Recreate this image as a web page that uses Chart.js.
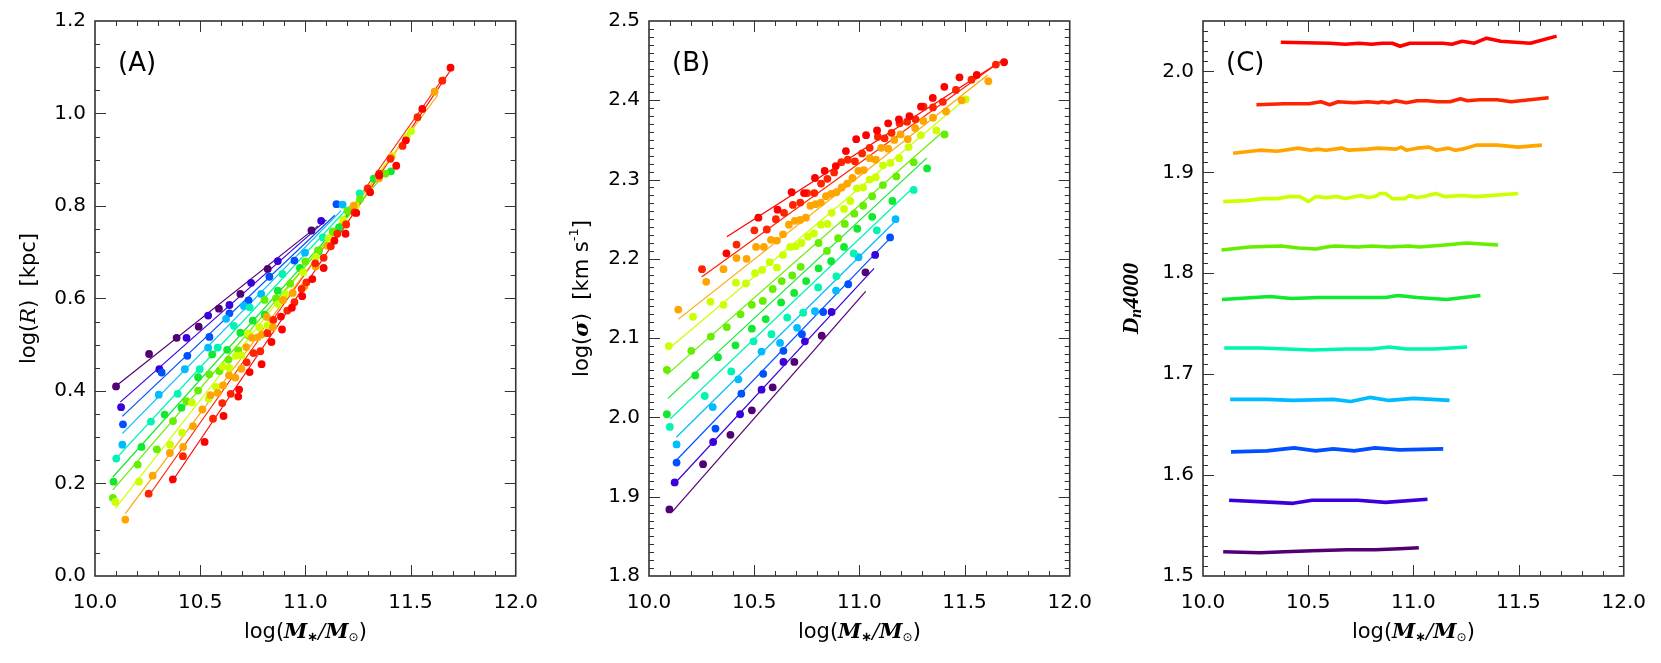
<!DOCTYPE html>
<html>
<head>
<meta charset="utf-8">
<script src="https://cdn.jsdelivr.net/npm/chart.js@4.4.0/dist/chart.umd.min.js"></script>
<style>
  body { margin: 0; background: #fff; }
  #wrap { position: relative; width: 1661px; height: 663px; }
  canvas { position: absolute; top: 0; }
</style>
</head>
<body>
<div id="wrap">
  <canvas id="panelA" width="553" height="663" style="left:0px"></canvas>
  <canvas id="panelB" width="554" height="663" style="left:553px"></canvas>
  <canvas id="panelC" width="554" height="663" style="left:1107px"></canvas>
</div>
<script>
// ---- data ----
const seriesColors = ['#520072', '#3a00dc', '#0050ff', '#00bbff', '#00f5b0', '#11e830',
  '#66ee00', '#ccff00', '#ffa500', '#ff2400', '#ff0000'];

const xTicks = [10.0, 10.5, 11.0, 11.5, 12.0];
const yTicksA = [0.0, 0.2, 0.4, 0.6, 0.8, 1.0, 1.2];
const yTicksB = [1.8, 1.9, 2.0, 2.1, 2.2, 2.3, 2.4, 2.5];
const yTicksC = [1.5, 1.6, 1.7, 1.8, 1.9, 2.0];

// panel A: log(R) vs log(M*)
const radiusPoints = [
  [[10.100,0.410],[10.257,0.480],[10.388,0.515],[10.493,0.539],[10.589,0.578],[10.691,0.610],[10.821,0.664],[11.029,0.747]],
  [[10.124,0.365],[10.306,0.447],[10.435,0.515],[10.538,0.563],[10.639,0.586],[10.742,0.634],[10.869,0.681],[11.075,0.768]],
  [[10.133,0.328],[10.317,0.440],[10.439,0.476],[10.544,0.517],[10.639,0.568],[10.730,0.596],[10.829,0.647],[10.948,0.682],[11.148,0.804]],
  [[10.130,0.284],[10.303,0.392],[10.427,0.447],[10.538,0.494],[10.623,0.556],[10.708,0.584],[10.790,0.610],[10.998,0.699],[11.177,0.803]],
  [[10.101,0.254],[10.266,0.334],[10.393,0.394],[10.498,0.447],[10.583,0.494],[10.660,0.541],[10.735,0.581],[10.891,0.653],[11.083,0.732],[11.258,0.827]],
  [[10.088,0.204],[10.221,0.279],[10.331,0.349],[10.411,0.364],[10.490,0.430],[10.557,0.479],[10.628,0.489],[10.691,0.526],[10.750,0.552],[10.807,0.565],[10.869,0.617],[10.974,0.666],[11.064,0.702],[11.160,0.754],[11.325,0.859],[11.407,0.875]],
  [[10.085,0.169],[10.203,0.241],[10.294,0.274],[10.371,0.335],[10.435,0.378],[10.490,0.401],[10.543,0.436],[10.591,0.443],[10.634,0.468],[10.681,0.488],[10.730,0.520],[10.806,0.597],[10.860,0.600],[10.928,0.632],[11.000,0.680],[11.060,0.704],[11.130,0.745],[11.200,0.790],[11.260,0.815],[11.380,0.870]],
  [[10.097,0.160],[10.209,0.204],[10.357,0.284],[10.414,0.310],[10.461,0.375],[10.540,0.383],[10.575,0.409],[10.608,0.453],[10.639,0.450],[10.670,0.476],[10.696,0.477],[10.727,0.524],[10.781,0.538],[10.820,0.542],[10.871,0.588],[10.905,0.609],[10.990,0.657],[11.050,0.690],[11.110,0.730],[11.180,0.770],[11.240,0.800],[11.300,0.835],[11.412,0.908],[11.482,0.949],[11.503,0.962]],
  [[10.144,0.122],[10.274,0.217],[10.356,0.266],[10.419,0.279],[10.466,0.324],[10.510,0.360],[10.549,0.391],[10.583,0.396],[10.609,0.412],[10.637,0.434],[10.667,0.429],[10.696,0.448],[10.719,0.495],[10.746,0.515],[10.773,0.516],[10.792,0.522],[10.817,0.560],[10.846,0.538],[10.894,0.597],[10.940,0.612],[10.995,0.626],[11.049,0.669],[11.106,0.714],[11.191,0.761],[11.230,0.801],[11.350,0.860],[11.407,0.905],[11.614,1.047]],
  [[10.255,0.178],[10.418,0.259],[10.561,0.340],[10.605,0.374],[10.645,0.394],[10.721,0.462],[10.753,0.482],[10.786,0.486],[10.820,0.525],[10.848,0.554],[10.914,0.574],[10.948,0.592],[10.982,0.621],[11.005,0.635],[11.047,0.676],[11.087,0.688],[11.121,0.713],[11.152,0.740],[11.194,0.760],[11.233,0.786],[11.296,0.838],[11.351,0.870],[11.404,0.902],[11.462,0.930],[11.533,0.992],[11.651,1.071]],
  [[10.370,0.209],[10.521,0.290],[10.611,0.346],[10.681,0.388],[10.685,0.403],[10.735,0.441],[10.792,0.458],[10.839,0.506],[10.889,0.533],[10.884,0.561],[10.936,0.580],[10.985,0.605],[11.033,0.642],[11.087,0.666],[11.138,0.725],[11.191,0.740],[11.242,0.785],[11.308,0.830],[11.351,0.866],[11.432,0.887],[11.478,0.942],[11.556,1.010],[11.690,1.099]]
];
const radiusFits = [
  [[10.10,0.411],[11.06,0.757]], [[10.12,0.376],[11.10,0.770]], [[10.13,0.345],[11.14,0.780]],
  [[10.13,0.308],[11.17,0.790]], [[10.10,0.254],[11.21,0.800]], [[10.085,0.214],[11.27,0.815]],
  [[10.085,0.186],[11.36,0.860]], [[10.097,0.146],[11.50,0.960]], [[10.144,0.135],[11.63,1.040]],
  [[10.255,0.173],[11.66,1.080]], [[10.36,0.200],[11.70,1.100]]
];

// panel B: log(sigma) vs log(M*)
const sigmaPoints = [
  [[10.097,1.884],[10.257,1.941],[10.387,1.978],[10.489,2.009],[10.588,2.038],[10.691,2.070],[10.821,2.103],[11.029,2.183]],
  [[10.122,1.918],[10.305,1.969],[10.433,2.004],[10.535,2.035],[10.639,2.070],[10.741,2.096],[10.868,2.133],[11.075,2.205]],
  [[10.131,1.943],[10.316,1.986],[10.439,2.030],[10.543,2.055],[10.639,2.084],[10.727,2.105],[10.828,2.133],[10.947,2.168],[11.146,2.227]],
  [[10.131,1.966],[10.303,2.013],[10.425,2.048],[10.535,2.083],[10.623,2.094],[10.704,2.113],[10.789,2.134],[10.889,2.160],[10.996,2.202],[11.172,2.250]],
  [[10.099,1.988],[10.265,2.027],[10.391,2.058],[10.497,2.096],[10.582,2.105],[10.657,2.126],[10.733,2.132],[10.804,2.164],[10.891,2.178],[10.973,2.207],[11.083,2.236],[11.258,2.287]],
  [[10.085,2.004],[10.220,2.053],[10.328,2.076],[10.411,2.091],[10.489,2.112],[10.555,2.124],[10.628,2.145],[10.690,2.157],[10.747,2.172],[10.806,2.188],[10.866,2.197],[10.927,2.215],[10.990,2.238],[11.061,2.253],[11.157,2.273],[11.322,2.314]],
  [[10.085,2.060],[10.201,2.084],[10.294,2.102],[10.370,2.114],[10.435,2.130],[10.489,2.142],[10.541,2.147],[10.588,2.162],[10.631,2.172],[10.681,2.179],[10.721,2.190],[10.806,2.220],[10.846,2.210],[10.899,2.226],[10.931,2.244],[10.976,2.257],[11.018,2.267],[11.061,2.279],[11.112,2.293],[11.176,2.304],[11.258,2.322],[11.405,2.357]],
  [[10.094,2.090],[10.209,2.127],[10.292,2.146],[10.354,2.142],[10.413,2.170],[10.461,2.169],[10.504,2.182],[10.538,2.186],[10.574,2.196],[10.608,2.189],[10.637,2.205],[10.671,2.215],[10.698,2.216],[10.725,2.220],[10.755,2.228],[10.784,2.232],[10.817,2.243],[10.848,2.244],[10.868,2.258],[10.927,2.263],[10.957,2.273],[10.988,2.289],[11.018,2.290],[11.049,2.300],[11.078,2.303],[11.112,2.318],[11.148,2.321],[11.189,2.327],[11.234,2.341],[11.292,2.356],[11.366,2.362],[11.505,2.401]],
  [[10.139,2.136],[10.272,2.171],[10.354,2.187],[10.416,2.201],[10.464,2.200],[10.509,2.215],[10.546,2.215],[10.580,2.224],[10.608,2.223],[10.637,2.231],[10.665,2.243],[10.693,2.248],[10.719,2.249],[10.746,2.252],[10.767,2.267],[10.792,2.269],[10.817,2.271],[10.841,2.279],[10.866,2.282],[10.891,2.284],[10.916,2.290],[10.942,2.295],[10.967,2.302],[10.995,2.311],[11.021,2.312],[11.049,2.327],[11.078,2.325],[11.104,2.340],[11.137,2.339],[11.166,2.350],[11.196,2.357],[11.230,2.351],[11.265,2.365],[11.304,2.374],[11.350,2.378],[11.412,2.386],[11.486,2.400],[11.613,2.424]],
  [[10.252,2.187],[10.416,2.218],[10.501,2.236],[10.560,2.237],[10.603,2.250],[10.642,2.258],[10.684,2.268],[10.719,2.271],[10.752,2.283],[10.786,2.283],[10.818,2.295],[10.848,2.301],[10.880,2.309],[10.914,2.322],[10.945,2.325],[10.979,2.323],[11.013,2.333],[11.049,2.340],[11.088,2.354],[11.120,2.352],[11.153,2.359],[11.191,2.371],[11.227,2.373],[11.267,2.376],[11.305,2.392],[11.350,2.391],[11.397,2.398],[11.459,2.413],[11.533,2.426],[11.649,2.445]],
  [[10.368,2.207],[10.520,2.252],[10.611,2.262],[10.678,2.284],[10.737,2.283],[10.789,2.302],[10.835,2.311],[10.888,2.317],[10.936,2.336],[10.985,2.351],[11.032,2.356],[11.084,2.362],[11.137,2.371],[11.188,2.376],[11.238,2.380],[11.293,2.392],[11.349,2.403],[11.404,2.417],[11.476,2.429],[11.558,2.432],[11.688,2.448]]
];
const sigmaFits = [
  [[10.11,1.881],[11.03,2.159]], [[10.12,1.916],[11.07,2.188]], [[10.13,1.946],[11.15,2.227]],
  [[10.13,1.975],[11.18,2.250]], [[10.10,1.998],[11.26,2.291]], [[10.09,2.024],[11.32,2.327]],
  [[10.085,2.054],[11.40,2.361]], [[10.095,2.087],[11.505,2.402]], [[10.14,2.124],[11.61,2.432]],
  [[10.25,2.177],[11.65,2.445]], [[10.37,2.228],[11.69,2.452]]
];

// panel C: Dn4000 vs log(M*)
const dn4000Lines = [
  [[10.096,1.524],[10.270,1.523],[10.387,1.524],[10.520,1.525],[10.685,1.526],[10.818,1.526],[10.934,1.527],[11.026,1.528]],
  [[10.124,1.575],[10.337,1.573],[10.428,1.572],[10.519,1.575],[10.735,1.575],[10.868,1.573],[11.067,1.576]],
  [[10.133,1.623],[10.304,1.624],[10.433,1.627],[10.536,1.624],[10.619,1.626],[10.719,1.624],[10.818,1.627],[10.934,1.625],[11.142,1.626]],
  [[10.129,1.675],[10.304,1.675],[10.428,1.674],[10.619,1.675],[10.702,1.673],[10.793,1.677],[10.885,1.674],[11.001,1.676],[11.172,1.674]],
  [[10.101,1.726],[10.271,1.726],[10.519,1.724],[10.685,1.725],[10.802,1.725],[10.885,1.727],[10.968,1.725],[11.100,1.725],[11.255,1.727]],
  [[10.090,1.774],[10.320,1.777],[10.420,1.775],[10.553,1.776],[10.685,1.776],[10.868,1.776],[10.926,1.778],[11.017,1.776],[11.158,1.774],[11.319,1.778]],
  [[10.088,1.823],[10.221,1.826],[10.371,1.827],[10.454,1.825],[10.537,1.824],[10.587,1.826],[10.629,1.827],[10.737,1.826],[10.803,1.827],[10.886,1.826],[10.977,1.827],[11.027,1.826],[11.151,1.828],[11.251,1.830],[11.403,1.828]],
  [[10.096,1.871],[10.203,1.872],[10.286,1.874],[10.353,1.874],[10.411,1.876],[10.461,1.876],[10.502,1.871],[10.535,1.876],[10.585,1.875],[10.635,1.876],[10.676,1.874],[10.751,1.877],[10.784,1.875],[10.817,1.876],[10.842,1.879],[10.867,1.879],[10.900,1.874],[10.958,1.874],[10.983,1.877],[11.017,1.875],[11.050,1.876],[11.108,1.879],[11.149,1.876],[11.232,1.877],[11.299,1.876],[11.498,1.879]],
  [[10.143,1.919],[10.270,1.922],[10.353,1.921],[10.453,1.924],[10.511,1.922],[10.544,1.923],[10.585,1.922],[10.660,1.924],[10.693,1.922],[10.784,1.923],[10.834,1.924],[10.917,1.923],[10.942,1.925],[10.967,1.922],[11.017,1.924],[11.075,1.925],[11.108,1.922],[11.166,1.924],[11.199,1.922],[11.232,1.923],[11.299,1.927],[11.398,1.927],[11.498,1.925],[11.611,1.927]],
  [[10.254,1.967],[10.387,1.968],[10.503,1.968],[10.561,1.970],[10.602,1.967],[10.643,1.970],[10.718,1.969],[10.784,1.970],[10.834,1.969],[10.851,1.970],[10.884,1.969],[10.917,1.971],[10.967,1.969],[11.017,1.971],[11.066,1.971],[11.116,1.970],[11.174,1.970],[11.224,1.973],[11.257,1.971],[11.315,1.972],[11.398,1.972],[11.465,1.970],[11.643,1.974]],
  [[10.370,2.029],[10.602,2.028],[10.676,2.027],[10.743,2.028],[10.801,2.027],[10.851,2.028],[10.900,2.028],[10.937,2.025],[10.984,2.028],[11.092,2.028],[11.141,2.028],[11.183,2.027],[11.232,2.030],[11.290,2.028],[11.348,2.033],[11.415,2.030],[11.556,2.028],[11.681,2.035]]
];

// ---- drawing helpers ----
const SANS = '"DejaVu Sans", sans-serif';
const SERIF = '"DejaVu Serif", serif';

function toXY(pairs) { return pairs.map(p => ({ x: p[0], y: p[1] })); }

function drawRich(ctx, parts, x, y, rotate) {
  ctx.save();
  ctx.translate(x, y);
  if (rotate) ctx.rotate(-Math.PI / 2);
  ctx.textBaseline = 'middle';
  ctx.fillStyle = '#000';
  let total = 0;
  parts.forEach(p => { ctx.font = p.f; total += ctx.measureText(p.t).width; });
  let cx = -total / 2;
  parts.forEach(p => {
    ctx.font = p.f;
    ctx.fillText(p.t, cx, p.dy || 0);
    cx += ctx.measureText(p.t).width;
  });
  ctx.restore();
}

const massTitle = [
  { t: 'log(', f: '21px ' + SANS },
  { t: 'M', f: 'bold italic 21px ' + SERIF },
  { t: '\u2217', f: 'bold 13px ' + SANS, dy: 5 },
  { t: '/', f: 'italic 21px ' + SERIF },
  { t: 'M', f: 'bold italic 21px ' + SERIF },
  { t: '\u2299', f: '12px ' + SANS, dy: 5 },
  { t: ')', f: '21px ' + SANS }
];

// frame with inward major/minor ticks on all four sides, plus titles
const framePlugin = {
  id: 'frame',
  afterDraw(chart, args, opts) {
    const { ctx, chartArea: a, scales } = chart;
    ctx.save();
    ctx.strokeStyle = '#333';
    ctx.lineWidth = 1;
    const tick = (x1, y1, x2, y2) => {
      ctx.beginPath(); ctx.moveTo(x1, y1); ctx.lineTo(x2, y2); ctx.stroke();
    };
    const nx = Math.round((scales.x.max - scales.x.min) / 0.1);
    for (let i = 1; i < nx; i++) {
      const v = scales.x.min + i * 0.1;
      const px = Math.round(scales.x.getPixelForValue(v)) + 0.5;
      const len = (i % 5 === 0) ? 11 : 5;
      tick(px, a.bottom, px, a.bottom - len);
      tick(px, a.top, px, a.top + len);
    }
    const ny = Math.round((scales.y.max - scales.y.min) / opts.yMinor);
    for (let i = 1; i < ny; i++) {
      const v = scales.y.min + i * opts.yMinor;
      const py = Math.round(scales.y.getPixelForValue(v)) + 0.5;
      const len = (i % opts.perMajor === 0) ? 11 : 5;
      tick(a.left, py, a.left + len, py);
      tick(a.right, py, a.right - len, py);
    }
    ctx.lineWidth = 1.6;
    ctx.strokeRect(a.left, a.top, a.right - a.left, a.bottom - a.top);
    ctx.restore();

    drawRich(ctx, massTitle, (a.left + a.right) / 2, 633, false);
    drawRich(ctx, opts.yTitle, opts.yTitleX, (a.top + a.bottom) / 2, true);
    ctx.save();
    ctx.font = '26px ' + SANS;
    ctx.textBaseline = 'middle';
    ctx.fillStyle = '#000';
    ctx.fillText(opts.label, a.left + 23, 64);
    ctx.restore();
  }
};

function makePanel(id, p) {
  const canvas = document.getElementById(id);
  const datasets = [];
  if (p.fits) {
    p.fits.forEach((f, i) => datasets.push({
      data: toXY(f), showLine: true, borderColor: seriesColors[i], borderWidth: 1.2,
      pointRadius: 0, fill: false, order: 100
    }));
  }
  if (p.points) {
    p.points.forEach((s, i) => datasets.push({
      data: toXY(s), backgroundColor: seriesColors[i], borderWidth: 0,
      pointRadius: 3.9, order: 20 - i
    }));
  }
  if (p.lines) {
    p.lines.forEach((s, i) => datasets.push({
      data: toXY(s), showLine: true, borderColor: seriesColors[i], borderWidth: 3.6,
      pointRadius: 0, fill: false, order: 20 - i, borderJoinStyle: 'round'
    }));
  }
  return new Chart(canvas.getContext('2d'), {
    type: 'scatter',
    data: { datasets: datasets },
    options: {
      responsive: false,
      animation: false,
      devicePixelRatio: 1,
      events: [],
      layout: { padding: { left: 0, right: canvas.width - p.right, top: 20, bottom: 0 } },
      plugins: {
        legend: { display: false },
        tooltip: { enabled: false },
        frame: { yMinor: p.yMinor, perMajor: p.perMajor, yTitle: p.yTitle, yTitleX: p.yTitleX, label: p.label }
      },
      scales: {
        x: {
          type: 'linear', min: 10, max: 12,
          afterBuildTicks: s => { s.ticks = xTicks.map(v => ({ value: v })); },
          afterFit: s => { s.height = 87; },
          ticks: { callback: v => v.toFixed(1), color: '#000', padding: 15, maxRotation: 0, autoSkip: false,
                   font: { family: SANS, size: 20 } },
          grid: { display: false, drawTicks: false },
          border: { display: false }
        },
        y: {
          type: 'linear', min: p.yMin, max: p.yMax,
          afterBuildTicks: s => { s.ticks = p.yTicks.map(v => ({ value: v })); },
          afterFit: s => { s.width = p.left; },
          ticks: { callback: v => v.toFixed(1), color: '#000', padding: 9, autoSkip: false,
                   font: { family: SANS, size: 20 } },
          grid: { display: false, drawTicks: false },
          border: { display: false }
        }
      }
    },
    plugins: [framePlugin]
  });
}

makePanel('panelA', {
  points: radiusPoints, fits: radiusFits, yMin: 0, yMax: 1.2, yTicks: yTicksA,
  yMinor: 0.05, perMajor: 4, left: 95, right: 526, yTitleX: 30, label: '(A)',
  yTitle: [
    { t: 'log(', f: '21px ' + SANS },
    { t: 'R', f: 'italic 21px ' + SERIF },
    { t: ')  [kpc]', f: '21px ' + SANS }
  ]
});

makePanel('panelB', {
  points: sigmaPoints, fits: sigmaFits, yMin: 1.8, yMax: 2.5, yTicks: yTicksB,
  yMinor: 0.01, perMajor: 10, left: 96, right: 527, yTitleX: 30, label: '(B)',
  yTitle: [
    { t: 'log(', f: '21px ' + SANS },
    { t: '\u03c3', f: 'bold italic 21px ' + SERIF },
    { t: ')  [km s', f: '21px ' + SANS },
    { t: '-1', f: '13px ' + SANS, dy: -8 },
    { t: ']', f: '21px ' + SANS }
  ]
});

makePanel('panelC', {
  lines: dn4000Lines, yMin: 1.5, yMax: 2.05, yTicks: yTicksC,
  yMinor: 0.01, perMajor: 10, left: 96, right: 526, yTitleX: 25, label: '(C)',
  yTitle: [
    { t: 'D', f: 'bold italic 23px "Liberation Serif", serif' },
    { t: 'n', f: 'bold italic 16px "Liberation Serif", serif', dy: 5 },
    { t: '4000', f: 'bold italic 23px "Liberation Serif", serif' }
  ]
});
</script>
</body>
</html>
